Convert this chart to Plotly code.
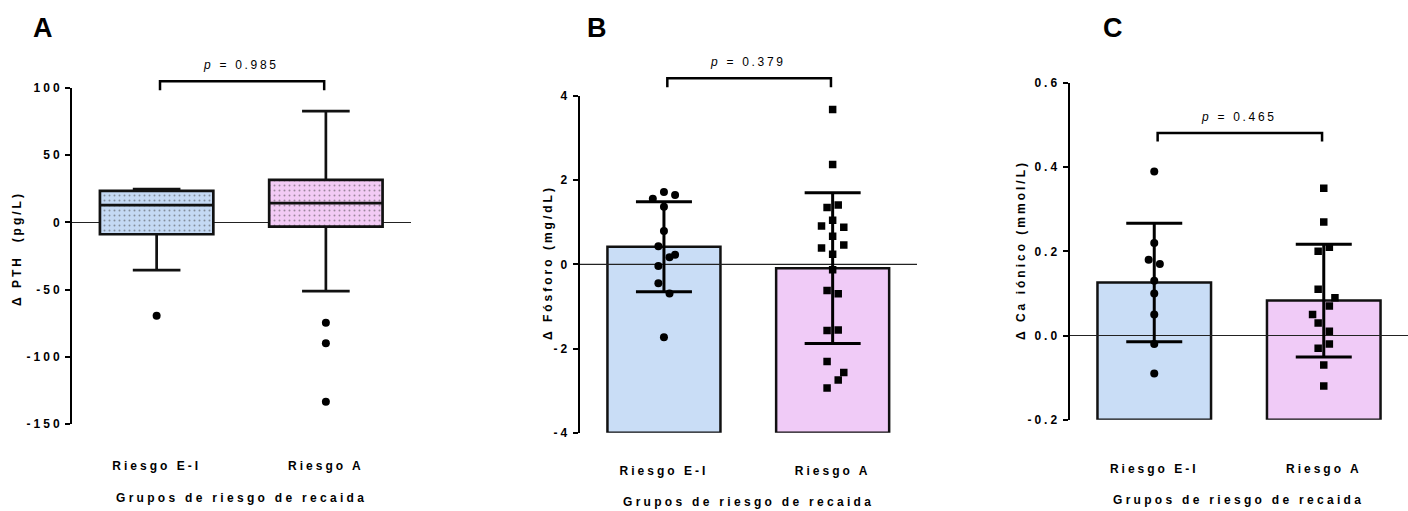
import plotly.graph_objects as go

# ---------------- data ----------------
groups = ["Riesgo E-I", "Riesgo A"]
group_x = [0, 1]

# Panel A: Δ PTH (pg/L) box summaries
pth_q1 = [-8.8, -3.1]
pth_median = [12.8, 14.3]
pth_q3 = [23.4, 31.6]
pth_lower = [-35.5, -51.1]
pth_upper = [24.7, 82.8]
pth_out_ei = [-69.5]
pth_out_a = [-74.7, -90.0, -133.4]

# Panel B: Δ Fósforo (mg/dL)
phos_mean = [0.42, -0.09]
phos_sd = [1.07, 1.79]
phos_ei = [1.72, 1.56, 1.65, 1.37, 0.79, 0.43, 0.17, 0.23, -0.04, -0.45, -0.69, -1.73]
phos_a = [3.68, 2.37, 1.35, 1.41, 1.05, 0.91, 0.88, 0.67, 0.39, 0.46, 0.24, -0.13,
          -0.62, -0.70, -1.57, -1.56, -2.31, -2.57, -2.75, -2.94]

# Panel C: Δ Ca iónico (mmol/L)
ca_mean = [0.126, 0.083]
ca_sd = [0.141, 0.134]
ca_ei = [0.39, 0.22, 0.18, 0.17, 0.13, 0.10, 0.05, -0.02, -0.09]
ca_a = [0.35, 0.27, 0.20, 0.21, 0.11, 0.09, 0.07, 0.05, 0.03, 0.01, -0.02, -0.03, -0.07, -0.12]

p_values = ["0.985", "0.379", "0.465"]

pth_ticks = [-150, -100, -50, 0, 50, 100]
pth_ticktext = ["-150", "-100", "-50", "0", "50", "100"]
phos_ticks = [-4, -2, 0, 2, 4]
phos_ticktext = ["-4", "-2", "0", "2", "4"]
ca_ticks = [-0.2, 0.0, 0.2, 0.4, 0.6]
ca_ticktext = ["-0.2", "0.0", "0.2", "0.4", "0.6"]

# ---------------- styling / layout helpers ----------------
W, H = 1408, 511
FONT = "Liberation Sans, Arial, Helvetica, sans-serif"
BLUE = "#c9ddf6"
PINK = "#f0cbf7"
BOX_BLUE = "#c4d9f4"
BOX_PINK = "#f2cbf5"

# scatter jitter (in steps) for the dot plots
JIT = 0.033
phos_ei_jit = [0, -2, 2, 0, 0, -1, 1, 2, -1, -1, 1, 0]
phos_a_jit = [0, 0, -1, 1, 0, -2, 2, 0, -2, 2, 0, 0, -1, 1, -1, 1, -1, 2, 1, -1]
ca_ei_jit = [0, 0, -1, 1, 0, 0, 0, 0, 0]
ca_a_jit = [0, 0, -1, 1, -1, 2, 1, -2, -1, 1, 1, -1, 0, 0]


def px_x(p):
    return p / W


def px_y(p):
    return 1 - p / H


def spaced(t, s=3):
    return '<span style="letter-spacing:%spx">%s</span>' % (s, t)


panels = {
    "A": dict(xdom=(72.0, 410.5), ydom=(424.0, 88.0), xr=[-0.5, 1.5], yr=[-150, 100],
              ticks=pth_ticks, ticktext=pth_ticktext, standoff=33,
              ytitle="Δ PTH  (pg/L)", ytitle_pos=(17, 249), xtitle_pos=(241, 498),
              letter_pos=(43, 28), bracket=(98.4, 105.1)),
    "B": dict(xdom=(579.6, 917.0), ydom=(432.7, 96.0), xr=[-0.5, 1.5], yr=[-4, 4],
              ticks=phos_ticks, ticktext=phos_ticktext, standoff=29,
              ytitle="Δ Fósforo (mg/dL)", ytitle_pos=(548, 263), xtitle_pos=(748, 502),
              letter_pos=(597, 28), bracket=(4.21, 4.42)),
    "C": dict(xdom=(1069.5, 1408.0), ydom=(419.7, 83.0), xr=[-0.5, 1.497], yr=[-0.2, 0.6],
              ticks=ca_ticks, ticktext=ca_ticktext, standoff=40,
              ytitle="Δ Ca iónico (mmol/L)", ytitle_pos=(1021, 250), xtitle_pos=(1238, 500),
              letter_pos=(1113, 28), bracket=(0.461, 0.481)),
}
axis_ids = {"A": ("x", "y"), "B": ("x2", "y2"), "C": ("x3", "y3")}

fig = go.Figure()

# ---------------- Panel A: box plots ----------------
fig.add_trace(go.Bar(
    x=group_x, y=[q3 - q1 for q1, q3 in zip(pth_q1, pth_q3)], base=pth_q1, width=0.67,
    marker=dict(color=[BOX_BLUE, BOX_PINK], line=dict(width=0),
                pattern=dict(shape=".", size=5, solidity=0.12,
                             fgcolor=["#34476a", "#5a3d5e"], bgcolor=[BOX_BLUE, BOX_PINK])),
    xaxis="x", yaxis="y", showlegend=False, hoverinfo="skip"))
for i in range(2):
    fig.add_trace(go.Box(
        x=[group_x[i]], q1=[pth_q1[i]], median=[pth_median[i]], q3=[pth_q3[i]],
        lowerfence=[pth_lower[i]], upperfence=[pth_upper[i]], width=0.67, whiskerwidth=0.42,
        fillcolor="rgba(0,0,0,0)", line=dict(color="#111111", width=2.7), boxpoints=False,
        xaxis="x", yaxis="y", showlegend=False, name=groups[i]))
fig.add_trace(go.Scatter(x=[group_x[0]] * len(pth_out_ei), y=pth_out_ei, mode="markers",
                         marker=dict(symbol="circle", size=8, color="black"),
                         xaxis="x", yaxis="y", showlegend=False))
fig.add_trace(go.Scatter(x=[group_x[1]] * len(pth_out_a), y=pth_out_a, mode="markers",
                         marker=dict(symbol="circle", size=8, color="black"),
                         xaxis="x", yaxis="y", showlegend=False))


# ---------------- Panels B and C: bars + SD + points ----------------
def bar_panel(key, means, sds, pts_ei, jit_ei, pts_a, jit_a):
    xa, ya = axis_ids[key]
    p = panels[key]
    base = p["yr"][0]
    fig.add_trace(go.Bar(
        x=group_x, y=[m - base for m in means], base=[base, base], width=0.67,
        marker=dict(color=[BLUE, PINK], line=dict(color="#111111", width=2.5)),
        cliponaxis=False, xaxis=xa, yaxis=ya, showlegend=False, hoverinfo="skip"))
    fig.add_trace(go.Scatter(x=p["xr"], y=[0, 0], mode="lines",
                             line=dict(color="#222222", width=1.2),
                             xaxis=xa, yaxis=ya, showlegend=False, hoverinfo="skip"))
    fig.add_trace(go.Scatter(
        x=group_x, y=means, mode="markers", marker=dict(size=1, color="rgba(0,0,0,0)"),
        error_y=dict(type="data", array=sds, visible=True, thickness=3, width=28, color="black"),
        xaxis=xa, yaxis=ya, showlegend=False, hoverinfo="skip"))
    fig.add_trace(go.Scatter(
        x=[group_x[0] + j * JIT for j in jit_ei], y=pts_ei, mode="markers",
        marker=dict(symbol="circle", size=8, color="black"),
        xaxis=xa, yaxis=ya, showlegend=False, name=groups[0]))
    fig.add_trace(go.Scatter(
        x=[group_x[1] + j * JIT for j in jit_a], y=pts_a, mode="markers",
        marker=dict(symbol="square", size=7.5, color="black"),
        xaxis=xa, yaxis=ya, showlegend=False, name=groups[1]))


bar_panel("B", phos_mean, phos_sd, phos_ei, phos_ei_jit, phos_a, phos_a_jit)
bar_panel("C", ca_mean, ca_sd, ca_ei, ca_ei_jit, ca_a, ca_a_jit)

# ---------------- axes, annotations, brackets ----------------
layout = dict(width=W, height=H, autosize=False,
              margin=dict(l=0, r=0, t=0, b=0, pad=0, autoexpand=False),
              paper_bgcolor="white", plot_bgcolor="white", barmode="overlay",
              font=dict(family=FONT, color="black"), showlegend=False)
annotations = []
shapes = []
tickfont = dict(family=FONT, size=12, color="black", weight="bold")
for n, key in enumerate(["A", "B", "C"]):
    p = panels[key]
    xa, ya = axis_ids[key]
    xk = "xaxis" + ("" if n == 0 else str(n + 1))
    yk = "yaxis" + ("" if n == 0 else str(n + 1))
    layout[xk] = dict(domain=[px_x(p["xdom"][0]), px_x(p["xdom"][1])], range=p["xr"],
                      anchor=ya, showline=False, showgrid=False, zeroline=False, ticks="",
                      tickvals=group_x, ticktext=[spaced(g) for g in groups],
                      tickfont=tickfont, ticklabelstandoff=p["standoff"], fixedrange=True,
                      automargin=False)
    layout[yk] = dict(domain=[px_y(p["ydom"][0]), px_y(p["ydom"][1])], range=p["yr"],
                      anchor=xa, showline=True, linecolor="black", linewidth=2,
                      ticks="outside", ticklen=5, tickwidth=2, tickcolor="black",
                      tickvals=p["ticks"], ticktext=[spaced(t) for t in p["ticktext"]],
                      tickfont=tickfont, showgrid=False,
                      zeroline=(key == "A"), zerolinecolor="#222222", zerolinewidth=1.2,
                      fixedrange=True, automargin=False)
    # y title
    annotations.append(dict(text="<b>" + spaced(p["ytitle"]) + "</b>", xref="paper", yref="paper",
                            x=px_x(p["ytitle_pos"][0]), y=px_y(p["ytitle_pos"][1]),
                            xanchor="center", yanchor="middle", textangle=-90, showarrow=False,
                            font=dict(family=FONT, size=12, color="black")))
    # x title
    annotations.append(dict(text="<b>" + spaced("Grupos de riesgo de recaida", 3.3) + "</b>",
                            xref="paper", yref="paper",
                            x=px_x(p["xtitle_pos"][0]), y=px_y(p["xtitle_pos"][1]),
                            xanchor="center", yanchor="middle", showarrow=False,
                            font=dict(family=FONT, size=12, color="black")))
    # panel letter
    annotations.append(dict(text="<b>%s</b>" % key, xref="paper", yref="paper",
                            x=px_x(p["letter_pos"][0]), y=px_y(p["letter_pos"][1]),
                            xanchor="center", yanchor="middle", showarrow=False,
                            font=dict(family=FONT, size=27, color="black")))
    # significance bracket
    lo, hi = p["yr"]
    yb = (p["bracket"][0] - lo) / (hi - lo)
    yt = (p["bracket"][1] - lo) / (hi - lo)
    xl, xr_ = 0.02, 0.99
    shapes.append(dict(type="path", xref=xa, yref=ya + " domain",
                       path="M %s,%s L %s,%s L %s,%s L %s,%s" % (xl, yb, xl, yt, xr_, yt, xr_, yb),
                       line=dict(color="black", width=2.5), layer="above"))
    annotations.append(dict(text=spaced("<i>p</i> = " + p_values[n], 2.7), xref=xa,
                            yref=ya + " domain", x=0.5, y=yt, yshift=16,
                            xanchor="center", yanchor="middle", showarrow=False,
                            font=dict(family=FONT, size=12, color="black")))

layout["annotations"] = annotations
layout["shapes"] = shapes
fig.update_layout(**layout)

fig.write_html("out.html", config={"displayModeBar": False},
               post_script="document.body.style.margin='0';")
